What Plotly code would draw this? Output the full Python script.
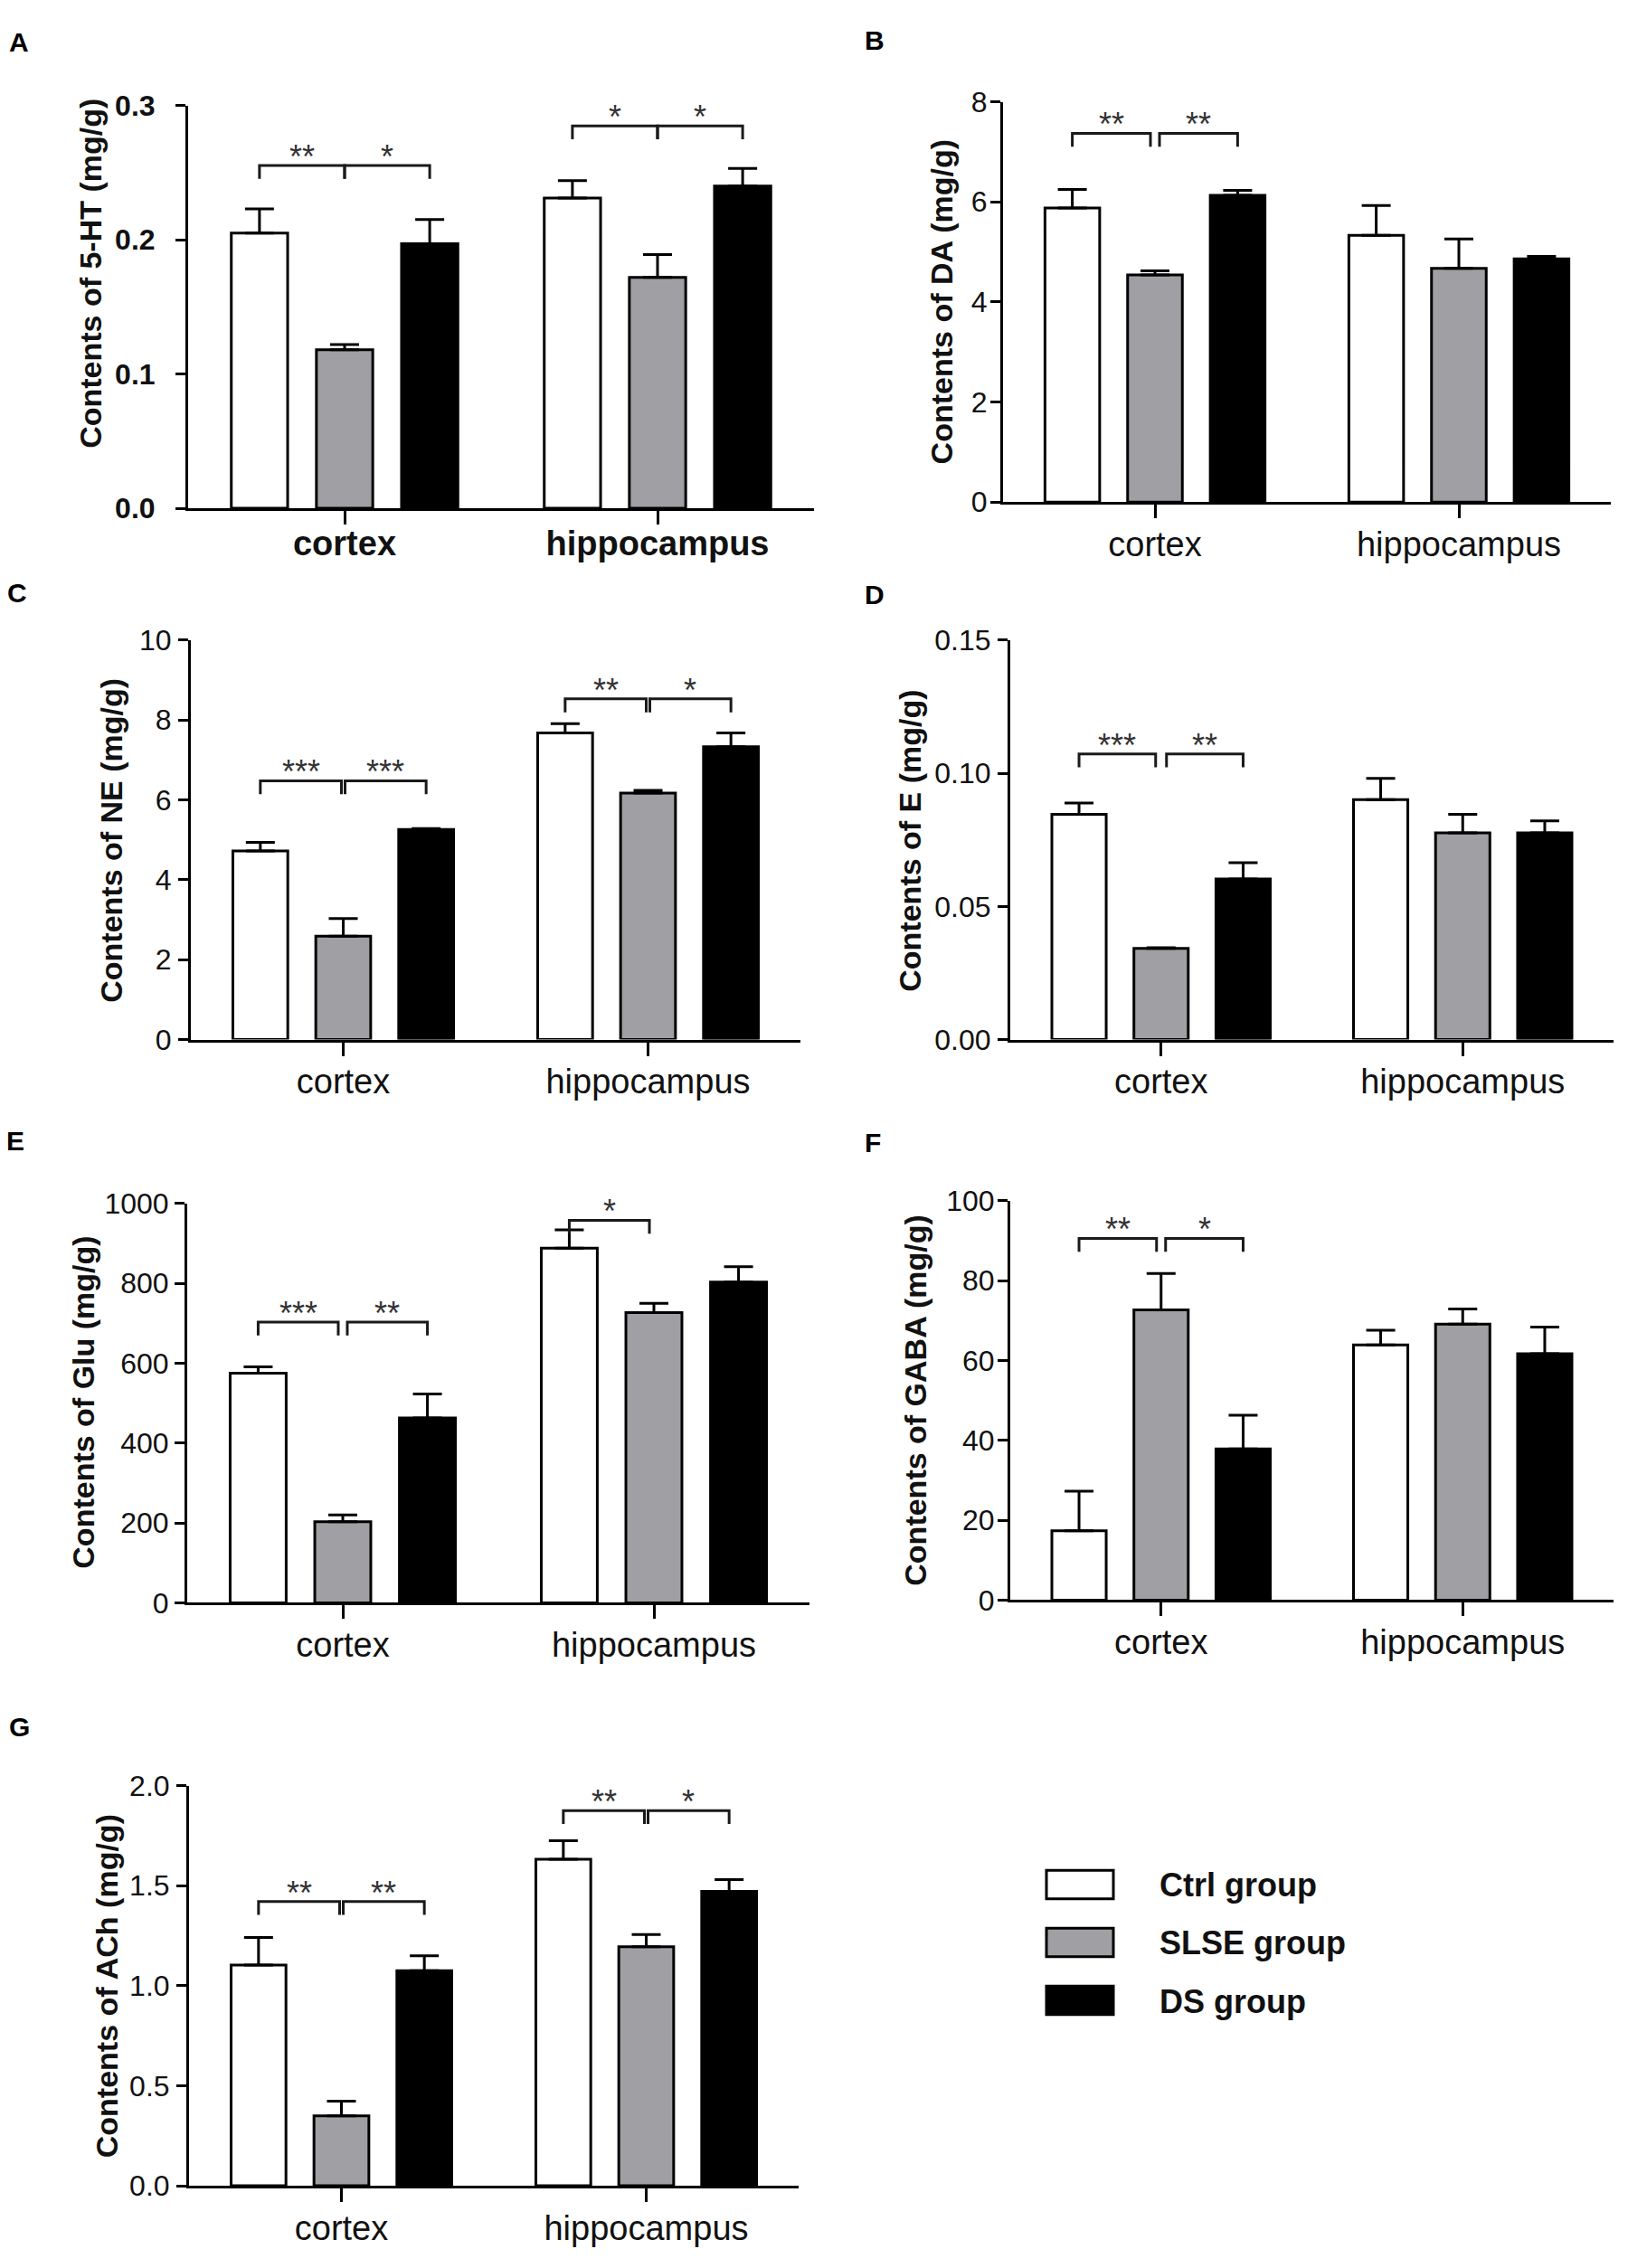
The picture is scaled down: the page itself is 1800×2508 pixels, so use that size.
import plotly.graph_objects as go

W, H = 1800, 2508

groups = ["Ctrl group", "SLSE group", "DS group"]
regions = ["cortex", "hippocampus"]
group_fill = ["#FFFFFF", "#A0A0A4", "#000000"]

# ---- Panel A: 5-HT ----
ht_mean = [[0.205, 0.231], [0.118, 0.172], [0.197, 0.240]]
ht_sem = [[0.018, 0.013], [0.004, 0.017], [0.018, 0.013]]
ht_ticks = [0.0, 0.1, 0.2, 0.3]
ht_ticktext = ["0.0", "0.1", "0.2", "0.3"]
ht_sig = [(0, 0, 1, 0.2553, "**"), (0, 1, 2, 0.2553, "*"),
          (1, 0, 1, 0.2847, "*"), (1, 1, 2, 0.2847, "*")]

# ---- Panel B: DA ----
da_mean = [[5.88, 5.33], [4.54, 4.67], [6.13, 4.86]]
da_sem = [[0.37, 0.60], [0.08, 0.59], [0.10, 0.05]]
da_ticks = [0, 2, 4, 6, 8]
da_ticktext = ["0", "2", "4", "6", "8"]
da_sig = [(0, 0, 1, 7.37, "**"), (0, 1, 2, 7.37, "**")]

# ---- Panel C: NE ----
ne_mean = [[4.72, 7.68], [2.59, 6.17], [5.26, 7.33]]
ne_sem = [[0.22, 0.23], [0.44, 0.07], [0.02, 0.35]]
ne_ticks = [0, 2, 4, 6, 8, 10]
ne_ticktext = ["0", "2", "4", "6", "8", "10"]
ne_sig = [(0, 0, 1, 6.48, "***"), (0, 1, 2, 6.48, "***"),
          (1, 0, 1, 8.53, "**"), (1, 1, 2, 8.53, "*")]

# ---- Panel D: E ----
e_mean = [[0.0846, 0.0901], [0.0342, 0.0776], [0.0603, 0.0776]]
e_sem = [[0.0042, 0.0080], [0.0003, 0.0070], [0.0061, 0.0045]]
e_ticks = [0.0, 0.05, 0.10, 0.15]
e_ticktext = ["0.00", "0.05", "0.10", "0.15"]
e_sig = [(0, 0, 1, 0.1073, "***"), (0, 1, 2, 0.1073, "**")]

# ---- Panel E: Glu ----
glu_mean = [[575, 888], [203, 727], [463, 803]]
glu_sem = [[16, 46], [17, 23], [60, 39]]
glu_ticks = [0, 200, 400, 600, 800, 1000]
glu_ticktext = ["0", "200", "400", "600", "800", "1000"]
glu_sig = [(0, 0, 1, 703, "***"), (0, 1, 2, 703, "**"),
           (1, 0, 1, 958, "*")]

# ---- Panel F: GABA ----
gaba_mean = [[17.4, 63.9], [72.7, 69.1], [37.9, 61.7]]
gaba_sem = [[9.9, 3.7], [9.1, 3.8], [8.4, 6.7]]
gaba_ticks = [0, 20, 40, 60, 80, 100]
gaba_ticktext = ["0", "20", "40", "60", "80", "100"]
gaba_sig = [(0, 0, 1, 90.6, "**"), (0, 1, 2, 90.6, "*")]

# ---- Panel G: ACh ----
ach_mean = [[1.103, 1.632], [0.349, 1.195], [1.075, 1.471]]
ach_sem = [[0.138, 0.092], [0.074, 0.061], [0.074, 0.059]]
ach_ticks = [0.0, 0.5, 1.0, 1.5, 2.0]
ach_ticktext = ["0.0", "0.5", "1.0", "1.5", "2.0"]
ach_sig = [(0, 0, 1, 1.421, "**"), (0, 1, 2, 1.421, "**"),
           (1, 0, 1, 1.875, "**"), (1, 1, 2, 1.875, "*")]

# layout of each panel in pixels: (left, right, top, bottom), title centre, letter pos
panels = [
    dict(letter="A", title="Contents of 5-HT (mg/g)", mean=ht_mean, sem=ht_sem,
         ticks=ht_ticks, ticktext=ht_ticktext, sig=ht_sig,
         box=(208, 900, 100, 552), tpos=(100, 289), lpos=(8, 10), gap=0,
         bold=True, ystand=16, xstand=-12),
    dict(letter="B", title="Contents of DA (mg/g)", mean=da_mean, sem=da_sem,
         ticks=da_ticks, ticktext=da_ticktext, sig=da_sig,
         box=(1109, 1781, 96, 545), tpos=(1041, 321), lpos=(954, 8), gap=5,
         bold=False, ystand=-3, xstand=-4),
    dict(letter="C", title="Contents of NE (mg/g)", mean=ne_mean, sem=ne_sem,
         ticks=ne_ticks, ticktext=ne_ticktext, sig=ne_sig,
         box=(211, 885, 700, 1148), tpos=(123, 924), lpos=(6, 628), gap=2,
         bold=False, ystand=1, xstand=-4),
    dict(letter="D", title="Contents of E (mg/g)", mean=e_mean, sem=e_sem,
         ticks=e_ticks, ticktext=e_ticktext, sig=e_sig,
         box=(1117, 1784, 700, 1148), tpos=(1006, 925), lpos=(954, 630), gap=6,
         bold=False, ystand=1, xstand=-4),
    dict(letter="E", title="Contents of Glu (mg/g)", mean=glu_mean, sem=glu_sem,
         ticks=glu_ticks, ticktext=glu_ticktext, sig=glu_sig,
         box=(207, 895, 1332, 1780), tpos=(92, 1555), lpos=(5, 1243), gap=5,
         bold=False, ystand=0, xstand=-4),
    dict(letter="F", title="Contents of GABA (mg/g)", mean=gaba_mean, sem=gaba_sem,
         ticks=gaba_ticks, ticktext=gaba_ticktext, sig=gaba_sig,
         box=(1117, 1784, 1329, 1777), tpos=(1012, 1553), lpos=(954, 1245), gap=5,
         bold=False, ystand=-3, xstand=-4),
    dict(letter="G", title="Contents of ACh (mg/g)", mean=ach_mean, sem=ach_sem,
         ticks=ach_ticks, ticktext=ach_ticktext, sig=ach_sig,
         box=(209, 883, 1985, 2434), tpos=(118, 2210), lpos=(8, 1900), gap=2,
         bold=False, ystand=1, xstand=-4),
]

BARGAP = 0.184
BARGROUPGAP = 0.338
SLOT = (1 - BARGAP) / 3
XR = [-0.5, 1.5]

REG = "Liberation Sans, Arial, sans-serif"
NARROW = "Liberation Sans Narrow, Arial Narrow, Liberation Sans, sans-serif"

fig = go.Figure()
shapes = []
annotations = []
layout_axes = {}

for i, p in enumerate(panels):
    n = "" if i == 0 else str(i + 1)
    xa, ya = "x" + n, "y" + n
    l, r, t, b = p["box"]
    ymax = p["ticks"][-1]
    for g in range(3):
        fig.add_trace(go.Bar(
            x=[0, 1], y=p["mean"][g], name=groups[g], xaxis=xa, yaxis=ya,
            marker=dict(color=group_fill[g], line=dict(color="#000000", width=3)),
            error_y=dict(type="data", array=p["sem"][g], arrayminus=[0, 0],
                         symmetric=False, color="#000000", thickness=3, width=16),
            showlegend=False, hoverinfo="skip",
        ))
    wt = "bold" if p["bold"] else "normal"
    layout_axes["xaxis" + n] = dict(
        domain=[l / W, r / W], anchor=ya, range=XR, tickvals=[0, 1], ticktext=regions,
        ticks="outside", ticklen=15, tickwidth=3, tickcolor="#000",
        showline=True, linewidth=3, linecolor="#000", showgrid=False, zeroline=False,
        tickfont=dict(family=REG, size=38, color="#111", weight=wt),
        ticklabelstandoff=p["xstand"], fixedrange=True,
    )
    layout_axes["yaxis" + n] = dict(
        domain=[1 - b / H, 1 - t / H], anchor=xa, range=[0, ymax],
        tickvals=p["ticks"], ticktext=p["ticktext"],
        ticks="outside", ticklen=11, tickwidth=3, tickcolor="#000",
        showline=True, linewidth=3, linecolor="#000", showgrid=False, zeroline=False,
        tickfont=dict(family=REG, size=32, color="#111", weight=wt),
        ticklabelstandoff=p["ystand"], fixedrange=True,
    )
    # y title
    annotations.append(dict(
        text=p["title"], textangle=-90, xref="paper", yref="paper",
        x=p["tpos"][0] / W, y=1 - p["tpos"][1] / H, xanchor="center", yanchor="middle",
        showarrow=False, font=dict(family=REG, size=34, color="#111", weight="bold"),
    ))
    # panel letter
    annotations.append(dict(
        text=p["letter"], xref="paper", yref="paper",
        x=p["lpos"][0] / W, y=1 - p["lpos"][1] / H, xanchor="left", yanchor="top",
        showarrow=False, font=dict(family=REG, size=30, color="#000", weight="bold"),
    ))
    # significance brackets
    plot_h = b - t
    plot_w = r - l
    drop = ymax * 15 / plot_h
    gx = p["gap"] * (XR[1] - XR[0]) / plot_w
    for reg_i, g1, g2, lev, lab in p["sig"]:
        x1 = reg_i + (g1 - 1) * SLOT
        x2 = reg_i + (g2 - 1) * SLOT
        if g1 == 1:
            x1 += gx
        if g2 == 1:
            x2 -= gx
        path = f"M {x1},{lev - drop} L {x1},{lev} L {x2},{lev} L {x2},{lev - drop}"
        shapes.append(dict(type="path", path=path, xref=xa, yref=ya,
                           line=dict(color="#1a1a1a", width=3)))
        annotations.append(dict(
            text=lab, x=(x1 + x2) / 2, y=lev, xref=xa, yref=ya,
            xanchor="center", yanchor="bottom", yshift=-13, showarrow=False,
            font=dict(family=REG, size=36, color="#333"),
        ))

# custom legend
leg_x0, leg_x1 = 1157, 1231
leg_rows = [2080, 2145, 2210]
for g in range(3):
    y0 = leg_rows[g]
    shapes.append(dict(type="rect", xref="paper", yref="paper",
                       x0=leg_x0 / W, x1=leg_x1 / W, y0=1 - (y0 + 32) / H, y1=1 - y0 / H,
                       fillcolor=group_fill[g], line=dict(color="#000", width=3)))
    annotations.append(dict(
        text=groups[g], xref="paper", yref="paper", x=1280 / W, y=1 - (y0 + 17) / H,
        xanchor="left", yanchor="middle", showarrow=False,
        font=dict(family=REG, size=36, color="#111", weight="bold"),
    ))

fig.update_layout(
    width=W, height=H, margin=dict(l=0, r=0, t=0, b=0),
    paper_bgcolor="#FFFFFF", plot_bgcolor="#FFFFFF",
    barmode="group", bargap=BARGAP, bargroupgap=BARGROUPGAP,
    shapes=shapes, annotations=annotations, showlegend=False,
    font=dict(family=REG, color="#111"),
    **layout_axes,
)

fig.write_html("out.html", config={"displayModeBar": False},
               post_script="document.body.style.margin='0';")
